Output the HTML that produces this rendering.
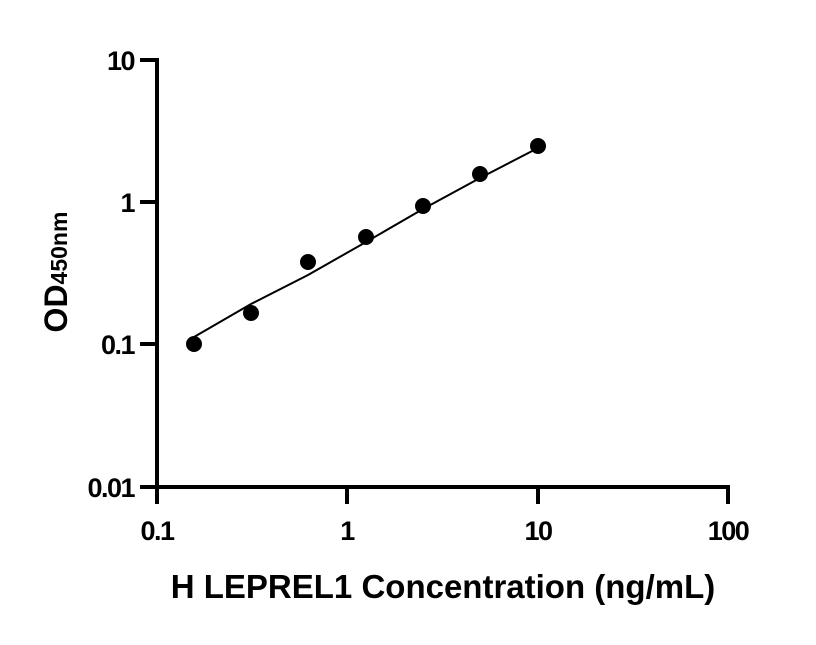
<!DOCTYPE html>
<html><head><style>body{margin:0;background:#fff}</style></head><body>
<svg width="816" height="640" xmlns="http://www.w3.org/2000/svg" font-family="'Liberation Sans',sans-serif" font-weight="bold">
<rect width="816" height="640" fill="#fff"/>
<g stroke="#000" stroke-width="4" fill="none">
<line x1="157" y1="58" x2="157" y2="489"/>
<line x1="155" y1="487" x2="730" y2="487"/>
<line x1="140" y1="60" x2="157" y2="60"/>
<line x1="140" y1="202" x2="157" y2="202"/>
<line x1="140" y1="344" x2="157" y2="344"/>
<line x1="140" y1="487" x2="157" y2="487"/>
<line x1="157" y1="487" x2="157" y2="504"/>
<line x1="347" y1="487" x2="347" y2="504"/>
<line x1="538" y1="487" x2="538" y2="504"/>
<line x1="728" y1="487" x2="728" y2="504"/>
</g>
<polyline points="194,337 251,304 308,275 366,242 423,209 480,178 538,148" fill="none" stroke="#000" stroke-width="2"/>
<g fill="#000">
<circle cx="194" cy="344" r="8"/><circle cx="251" cy="313" r="8"/><circle cx="308" cy="262" r="8"/>
<circle cx="366" cy="237" r="8"/><circle cx="423" cy="206" r="8"/><circle cx="480" cy="174" r="8"/>
<circle cx="538" cy="146" r="8"/>
</g>
<g font-size="27" text-anchor="end" letter-spacing="-1.5">
<text x="134" y="70">10</text><text x="134" y="212">1</text><text x="134" y="354">0.1</text><text x="134" y="497">0.01</text>
</g>
<g font-size="27" text-anchor="middle" letter-spacing="-1.5">
<text x="157" y="540">0.1</text><text x="347" y="540">1</text><text x="538" y="540">10</text><text x="728" y="540">100</text>
</g>
<text x="443" y="598" font-size="33" text-anchor="middle">H LEPREL1 Concentration (ng/mL)</text>
<text transform="translate(67,272) rotate(-90)" font-size="32" text-anchor="middle">OD<tspan font-size="23">450nm</tspan></text>
</svg>
</body></html>
